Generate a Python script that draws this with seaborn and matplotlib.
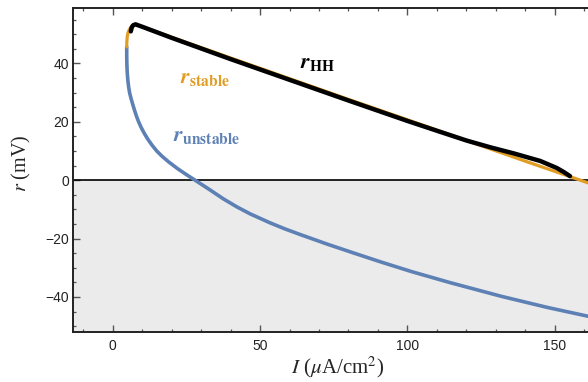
import numpy as np
import pandas as pd
import matplotlib
matplotlib.use("Agg")
import matplotlib.pyplot as plt
from matplotlib.ticker import MultipleLocator
import seaborn as sns

# unstable branch (blue)
I_unstable = [4.81, 4.82, 4.86, 4.93, 5.05, 5.22, 5.46, 5.78, 6.28, 6.85, 7.45, 8.1, 8.85,
              9.75, 10.8, 12.0, 13.4, 15.0, 16.8, 19.0, 22.0, 25.0, 28.0, 32.8, 37.6,
              42.1, 46.6, 53.4, 58.5, 63.6, 72.8, 81.65, 90.95, 101.35, 114.5, 131.9, 147.5, 161.2]
r_unstable = [45.7, 42, 40, 38, 36, 34, 32, 30, 28, 26, 24, 22, 20,
              18, 16, 14, 12, 10, 8.2, 6.3, 4.0, 1.95, 0, -3.15, -6.4,
              -9.1, -11.5, -14.6, -16.7, -18.6, -21.9, -24.9, -28.0, -31.3, -35.1, -39.8, -43.6, -46.6]

# stable branch (orange)
I_stable = [4.81, 4.85, 5.0, 5.3, 5.8, 6.6, 7.6, 10, 20, 40, 60, 80, 100, 120, 140, 161.2]
r_stable = [45.7, 47.5, 49.3, 50.7, 51.8, 52.9, 53.4, 52.6, 49.0, 41.9, 34.8, 27.7, 20.7, 13.6, 6.5, -0.9]

# simulated HH curve (black)
I_hh = [6.2, 6.5, 7.0, 7.8, 10, 20, 40, 60, 80, 100, 111, 120, 128, 136, 145, 150.6, 153, 155.1]
r_hh = [51.0, 52.3, 53.1, 53.4, 52.6, 48.8, 41.5, 34.4, 27.3, 20.3, 16.6, 13.6, 11.3, 9.2, 6.6, 4.2, 2.8, 1.4]

x_ticks = [0, 50, 100, 150]
y_ticks = [-40, -20, 0, 20, 40]

blue = "#5E81B5"
orange = "#E19C24"

sns.set_style("ticks")
plt.rcParams["font.family"] = ["Liberation Sans", "DejaVu Sans"]
plt.rcParams["mathtext.fontset"] = "stix"

fig = plt.figure(figsize=(5.88, 3.82), dpi=100)
ax = fig.add_axes([73 / 588, 50 / 382, 515 / 588, 324 / 382])

xlim = (-13.4, 161.2)
ylim = (-52.0, 59.0)

ax.axhspan(ylim[0], 0, color="#EBEBEB", zorder=0, lw=0)
ax.axhline(0, color="black", lw=1.2, zorder=1)

df_u = pd.DataFrame({"I": I_unstable, "r": r_unstable})
df_s = pd.DataFrame({"I": I_stable, "r": r_stable})
df_h = pd.DataFrame({"I": I_hh, "r": r_hh})

sns.lineplot(data=df_u, x="I", y="r", sort=False, estimator=None, color=blue, lw=2.6, ax=ax, zorder=2)
sns.lineplot(data=df_s, x="I", y="r", sort=False, estimator=None, color=orange, lw=2.3, ax=ax, zorder=3)
sns.lineplot(data=df_h, x="I", y="r", sort=False, estimator=None, color="black", lw=3.2, ax=ax, zorder=4)

ax.text(22.9, 33.2, r"$\mathbfit{r}_{\mathbf{stable}}$", color=orange, fontsize=16, va="baseline")
ax.text(20.6, 13.3, r"$\mathbfit{r}_{\mathbf{unstable}}$", color=blue, fontsize=16, va="baseline")
ax.text(63.6, 38.3, r"$\mathbfit{r}_{\mathbf{HH}}$", color="black", fontsize=16, va="baseline")

ax.set_xlim(*xlim)
ax.set_ylim(*ylim)
ax.set_xticks(x_ticks)
ax.set_yticks(y_ticks)
ax.xaxis.set_minor_locator(MultipleLocator(10))
ax.yaxis.set_minor_locator(MultipleLocator(5))

ax.tick_params(which="both", direction="in", top=True, right=False, color="#555555",
               labelsize=10, labelcolor="#222222")
ax.tick_params(which="major", length=5, width=1)
ax.tick_params(which="minor", length=2.5, width=0.9)
ax.tick_params(axis="x", pad=5)
ax.tick_params(axis="y", pad=3)

for side in ["left", "bottom", "top"]:
    ax.spines[side].set_color("#222222")
    ax.spines[side].set_linewidth(1.4)
ax.spines["right"].set_visible(False)

ax.set_xlabel(r"$I$ ($\mu$A/cm$^2$)", fontsize=15, family="Liberation Serif")
ax.set_ylabel(r"$r$ (mV)", fontsize=14.5, family="Liberation Serif")
ax.xaxis.set_label_coords(0.513, -0.07)
ax.yaxis.set_label_coords(-0.078, 0.52)

fig.savefig("out.png", dpi=100)
